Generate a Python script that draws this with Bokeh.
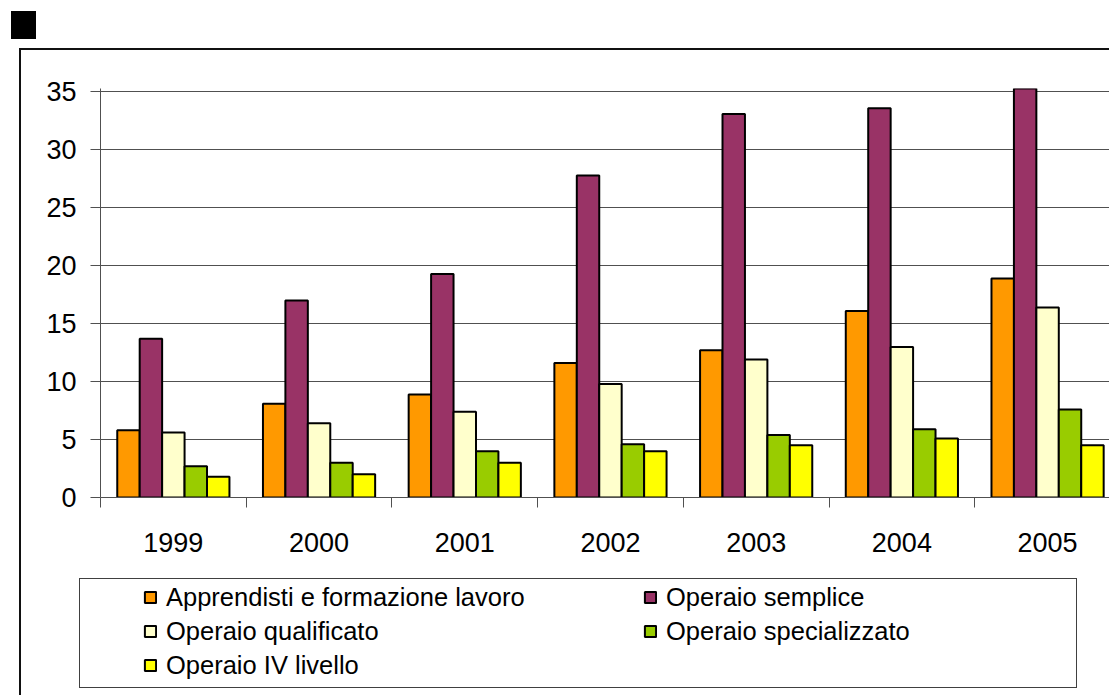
from bokeh.plotting import figure
from bokeh.layouts import column
from bokeh.models import (Range1d, FixedTicker, Legend, LegendItem, ColumnDataSource,
                          InlineStyleSheet)
from bokeh.transform import dodge
from bokeh.embed import file_html
from bokeh.resources import INLINE

# ---------------- data ----------------
years = ["1999", "2000", "2001", "2002", "2003", "2004", "2005"]
series_names = ["Apprendisti e formazione lavoro", "Operaio semplice",
                "Operaio qualificato", "Operaio specializzato", "Operaio IV livello"]
apprendisti = [5.8, 8.1, 8.9, 11.6, 12.7, 16.1, 18.9]
semplice = [13.7, 17.0, 19.3, 27.8, 33.1, 33.6, 35.3]
qualificato = [5.6, 6.4, 7.4, 9.8, 11.9, 13.0, 16.4]
specializzato = [2.7, 3.0, 4.0, 4.6, 5.4, 5.9, 7.6]
iv_livello = [1.8, 2.0, 3.0, 4.0, 4.5, 5.1, 4.5]
y_ticks = [0, 5, 10, 15, 20, 25, 30, 35]

colors = ["#FF9900", "#993366", "#FFFFCC", "#99CC00", "#FFFF00"]
values = [apprendisti, semplice, qualificato, specializzato, iv_livello]

W = 1109
H1, H2 = 575, 120
FONT = "Liberation Sans"
GRID = "#505050"

centers = [i + 0.5 for i in range(len(years))]
src = ColumnDataSource(dict(x=centers, **{f"s{k}": v for k, v in enumerate(values)}))

# ---------------- main chart ----------------
p = figure(width=W, height=H1, output_backend="svg", toolbar_location=None,
           x_range=Range1d(0, 6.925), y_range=Range1d(0, 35.3),
           min_border_left=100, min_border_right=0, min_border_top=88,
           min_border_bottom=78)
p.outline_line_color = None
p.background_fill_color = "white"
p.border_fill_color = "white"

bw = 0.154
for k in range(5):
    p.vbar(x=dodge("x", (k - 2) * bw, range=p.x_range), top=f"s{k}", width=bw,
           source=src, fill_color=colors[k], line_color="black", line_width=2)

# x axis: labels at category centres, tick marks at category boundaries
xa = p.xaxis[0]
xa.ticker = FixedTicker(ticks=centers, minor_ticks=list(range(len(years) + 1)))
xa.major_label_overrides = {c: y for c, y in zip(centers, years)}
xa.major_tick_line_color = None
xa.major_tick_out = 0
xa.major_tick_in = 0
xa.minor_tick_out = 10
xa.minor_tick_in = 0
xa.minor_tick_line_color = GRID
xa.axis_line_color = GRID
xa.major_label_text_font = FONT
xa.major_label_text_font_size = "27px"
xa.major_label_text_color = "black"
xa.major_label_standoff = 25

ya = p.yaxis[0]
ya.ticker = FixedTicker(ticks=y_ticks)
ya.major_tick_out = 10
ya.major_tick_in = 0
ya.major_tick_line_color = GRID
ya.minor_tick_line_color = None
ya.axis_line_color = GRID
ya.major_label_text_font = FONT
ya.major_label_text_font_size = "27px"
ya.major_label_text_color = "black"
ya.major_label_standoff = 14

p.xgrid.visible = False
p.ygrid.ticker = FixedTicker(ticks=y_ticks)
p.ygrid.grid_line_color = GRID
p.ygrid.grid_line_width = 1

css1 = """
:host { position: relative; }
:host::before {
  content: ""; position: absolute; left: 0; top: 0; right: 0; bottom: 0;
  pointer-events: none; z-index: 5;
  background:
    linear-gradient(#000, #000) 11px 11px / 25px 28px no-repeat,
    linear-gradient(#111, #111) 20px 48px / 100% 2px no-repeat,
    linear-gradient(#111, #111) 19px 48px / 2px 100% no-repeat;
}
"""
p.stylesheets = [InlineStyleSheet(css=css1)]

# ---------------- legend strip ----------------
# same series as hidden renderers; only their legend entries are shown
q = figure(width=W, height=H2, output_backend="svg", toolbar_location=None,
           x_range=Range1d(0, 6.925), y_range=Range1d(500, 500 + H2),
           x_axis_type=None, y_axis_type=None,
           min_border_left=0, min_border_right=0, min_border_top=0, min_border_bottom=0)
q.outline_line_color = None
q.xgrid.visible = False
q.ygrid.visible = False
q.background_fill_color = "white"
q.border_fill_color = "white"

leg_renderers = []
for k in range(5):
    r = q.vbar(x="x", top=f"s{k}", width=bw, source=src,
               fill_color=colors[k], line_color="black", line_width=2)
    r.visible = False
    leg_renderers.append(r)

# the strip's frame lines up with the chart's frame (left edge at x = 100)
legend = Legend(items=[LegendItem(label=series_names[i], renderers=[leg_renderers[i]])
                       for i in range(5)],
                location=(43, 13), orientation="horizontal", ncols=2,
                spacing=0, padding=0, margin=0,
                border_line_color=None, background_fill_alpha=0,
                inactive_fill_alpha=0,
                label_text_font=FONT, label_text_font_size="25.5px",
                label_text_color="black", label_width=477,
                glyph_width=14, glyph_height=14, label_height=34, label_standoff=9)
q.add_layout(legend)

css2 = """
:host { position: relative; }
:host::before {
  content: ""; position: absolute; left: 0; top: 0; right: 0; bottom: 0;
  pointer-events: none; z-index: 5;
  background: linear-gradient(#111, #111) 19px 0 / 2px 100% no-repeat;
}
:host::after {
  content: ""; position: absolute; left: 79px; top: 3px; width: 998px; height: 110px;
  border: 1.5px solid #404040; box-sizing: border-box; pointer-events: none; z-index: 5;
}
"""
q.stylesheets = [InlineStyleSheet(css=css2)]

layout = column(p, q, spacing=0)
open("out.html", "w").write(file_html(layout, INLINE))
